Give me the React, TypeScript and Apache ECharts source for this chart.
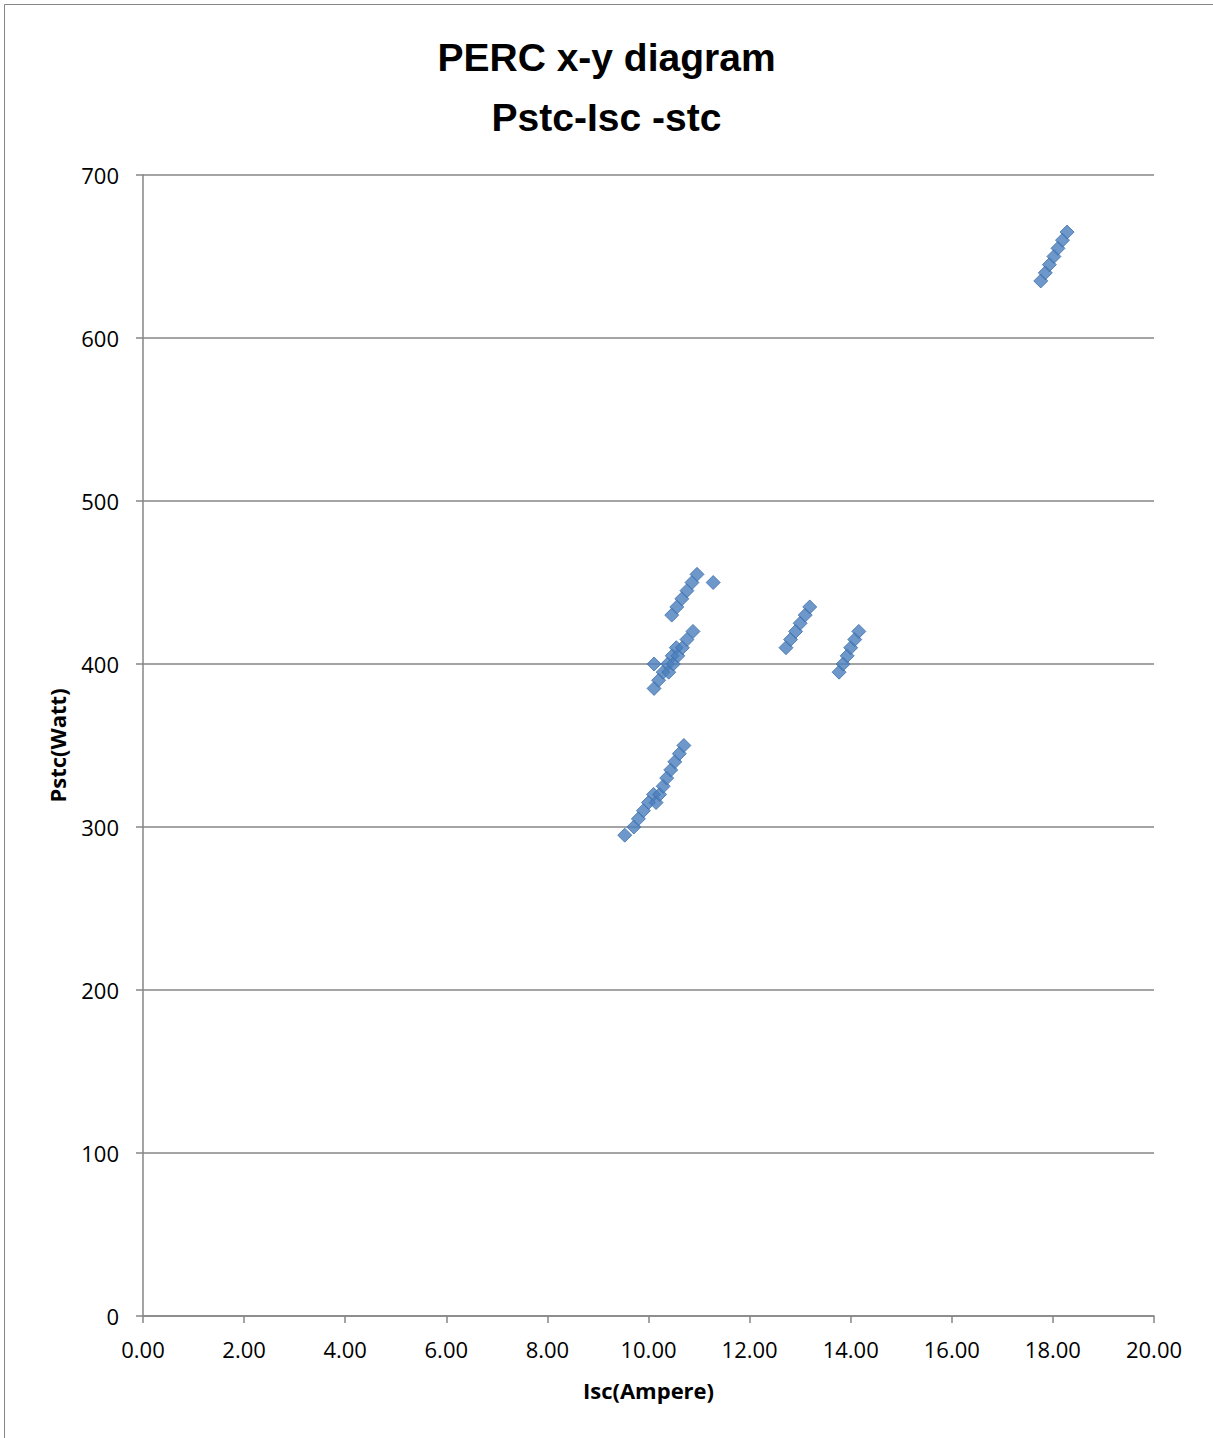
import React, { useEffect, useRef } from "react";
import * as echarts from "echarts";

const titleLines = ["PERC x-y diagram", "Pstc-Isc -stc"];
const xAxisName = "Isc(Ampere)";
const yAxisName = "Pstc(Watt)";

// Isc (A) values
const iscValues = [
  17.76, 17.85, 17.93, 18.02, 18.10, 18.19, 18.28,
  10.46, 10.56, 10.66, 10.76, 10.86, 10.96, 11.28,
  10.11, 10.20, 10.29, 10.38, 10.47, 10.55, 10.11,
  10.40, 10.49, 10.58, 10.67, 10.76, 10.88,
  9.53, 9.71, 9.80, 9.90, 10.00, 10.10,
  10.15, 10.22, 10.29, 10.36, 10.44, 10.52, 10.61, 10.70,
  12.72, 12.81, 12.91, 13.00, 13.10, 13.19,
  13.77, 13.85, 13.93, 14.00, 14.08, 14.16,
];
// Pstc (W) values
const pstcValues = [
  635, 640, 645, 650, 655, 660, 665,
  430, 435, 440, 445, 450, 455, 450,
  385, 390, 395, 400, 405, 410, 400,
  395, 400, 405, 410, 415, 420,
  295, 300, 305, 310, 315, 320,
  315, 320, 325, 330, 335, 340, 345, 350,
  410, 415, 420, 425, 430, 435,
  395, 400, 405, 410, 415, 420,
];

export default function App() {
  const ref = useRef<HTMLDivElement>(null);
  useEffect(() => {
    if (!ref.current) return;
    const chart = echarts.init(ref.current, undefined, { renderer: "svg" });
    const font = "'Open Sans', 'Liberation Sans', Arial, sans-serif";
    const titleFont = "'Liberation Sans', Arial, sans-serif";
    const data = iscValues.map((x, i) => [x, pstcValues[i]]);
    chart.setOption({
      animation: false,
      backgroundColor: "#ffffff",
      textStyle: { fontFamily: font },
      title: {
        text: titleLines.join("\n"),
        left: "center",
        top: 22,
        textStyle: {
          fontFamily: titleFont,
          fontSize: 39,
          fontWeight: "bold",
          color: "#000000",
          lineHeight: 60,
        },
      },
      graphic: [
        {
          type: "rect",
          shape: { x: 4.5, y: 4.5, width: 1220, height: 1445 },
          style: { fill: "none", stroke: "#868686", lineWidth: 1 },
          silent: true,
        },
      ],
      grid: { left: 143, right: 59, top: 175, bottom: 122, containLabel: false },
      xAxis: {
        type: "value",
        min: 0,
        max: 20,
        interval: 2,
        name: xAxisName,
        nameLocation: "middle",
        nameGap: 63,
        nameTextStyle: { fontFamily: font, fontSize: 22, fontWeight: "bold", color: "#000" },
        axisLine: { show: true, onZero: false, lineStyle: { color: "#868686", width: 1.5 } },
        axisTick: { show: true, inside: false, length: 7, lineStyle: { color: "#868686", width: 1.5 } },
        axisLabel: {
          fontFamily: font,
          fontSize: 22,
          color: "#000",
          margin: 22,
          formatter: (v: number) => v.toFixed(2),
        },
        splitLine: { show: false },
      },
      yAxis: {
        type: "value",
        min: 0,
        max: 700,
        interval: 100,
        name: yAxisName,
        nameLocation: "middle",
        nameGap: 75,
        nameRotate: 90,
        nameTextStyle: { fontFamily: font, fontSize: 22, fontWeight: "bold", color: "#000" },
        axisLine: { show: true, lineStyle: { color: "#868686", width: 1.5 } },
        axisTick: { show: true, inside: false, length: 7, lineStyle: { color: "#868686", width: 1.5 } },
        axisLabel: { fontFamily: font, fontSize: 22, color: "#000", margin: 24 },
        splitLine: { show: true, lineStyle: { color: "#868686", width: 1.5 } },
      },
      series: [
        {
          type: "scatter",
          data,
          symbol: "diamond",
          symbolSize: 14,
          itemStyle: { color: "#4A7EBB", borderColor: "#3F6FAE", borderWidth: 1 },
        },
      ],
    });
    return () => chart.dispose();
  }, []);
  return (
    <div
      ref={ref}
      style={{ position: "fixed", left: 0, top: 0, width: 1213, height: 1438 }}
    />
  );
}
